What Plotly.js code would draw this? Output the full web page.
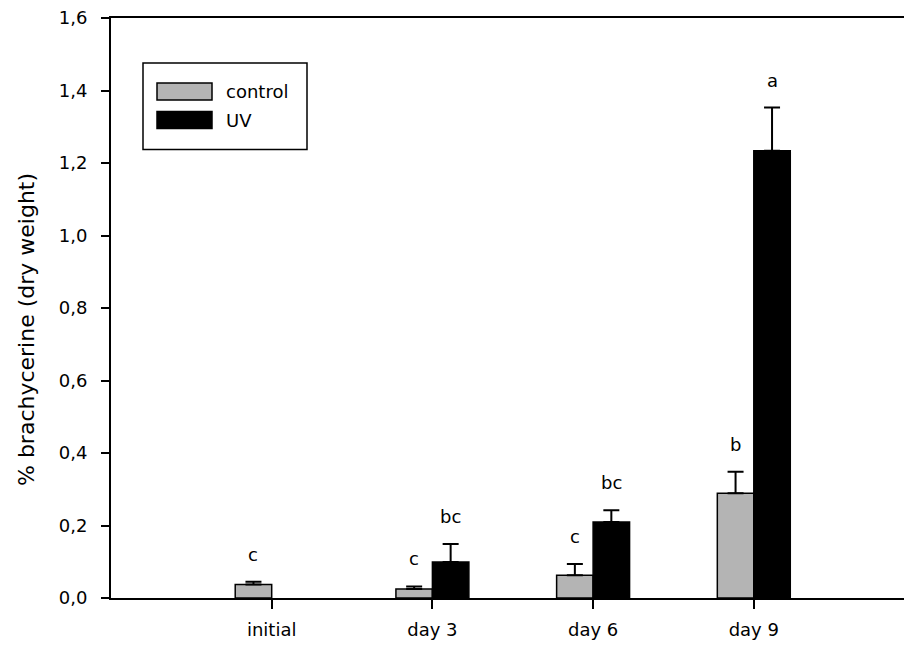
<!DOCTYPE html>
<html>
<head>
<meta charset="utf-8">
<script src="https://cdn.plot.ly/plotly-3.0.1.min.js"></script>
<style>
  html, body { margin: 0; padding: 0; background: #fff; overflow: hidden; }
  #chart { width: 904px; height: 650px; }
</style>
</head>
<body>
<div id="chart"></div>
<script>
// Sampling days and mean brachycerine content (% dry weight) with SE
const categories = ['initial', 'day 3', 'day 6', 'day 9'];
const controlMean = [0.037, 0.025, 0.063, 0.289];
const controlErr = [0.008, 0.007, 0.031, 0.059];
const uvMean = [null, 0.099, 0.210, 1.234];
const uvErr = [null, 0.050, 0.032, 0.119];

// Significance letters above each bar
const controlLetters = ['c', 'c', 'c', 'b'];
const uvLetters = [null, 'bc', 'bc', 'a'];

const seriesNames = ['control', 'UV'];
const seriesColors = ['#b4b4b4', '#000000'];

const yTickVals = [0, 0.2, 0.4, 0.6, 0.8, 1.0, 1.2, 1.4, 1.6];

// Geometry of the plotting area (pixels)
const W = 904, H = 650;
const M = { l: 111, r: 0, t: 18, b: 52 };
const plotW = W - M.l - M.r;
const plotH = H - M.t - M.b;
const catStep = 160.7;          // pixels per category
const barW = 0.227;             // bar width in category units
const FONT = 'DejaVu Sans';

const px2x = p => (p - M.l) / plotW;
const px2y = p => (H - M.b - p) / plotH;

function errSpec(arr) {
  return {
    type: 'data', symmetric: false,
    array: arr.map(v => (v == null ? null : v)),
    arrayminus: arr.map(() => 0),
    color: '#000', thickness: 2, width: 8, visible: true
  };
}

const traces = [
  {
    type: 'bar', name: seriesNames[0], x: categories, y: controlMean,
    width: barW, offset: -barW,
    marker: { color: seriesColors[0], line: { color: '#000', width: 1.5 } },
    error_y: errSpec(controlErr), showlegend: false, hoverinfo: 'skip'
  },
  {
    type: 'bar', name: seriesNames[1], x: categories, y: uvMean,
    width: barW, offset: 0,
    marker: { color: seriesColors[1], line: { color: '#000', width: 1.5 } },
    error_y: errSpec(uvErr), showlegend: false, hoverinfo: 'skip'
  }
];

const annotations = [];
const letterShift = barW / 2 * catStep;
function addLetters(letters, means, errs, dir) {
  letters.forEach((t, i) => {
    if (!t) return;
    annotations.push({
      x: categories[i], y: means[i] + errs[i], xref: 'x', yref: 'y',
      text: t, showarrow: false, xshift: dir * letterShift, yshift: 15,
      xanchor: 'center', yanchor: 'bottom',
      font: { family: FONT, size: 18, color: '#000' }
    });
  });
}
addLetters(controlLetters, controlMean, controlErr, -1);
addLetters(uvLetters, uvMean, uvErr, 1);

// y-axis title
annotations.push({
  x: px2x(26), y: px2y(330), xref: 'paper', yref: 'paper',
  text: '% brachycerine (dry weight)', textangle: -90, showarrow: false,
  xanchor: 'center', yanchor: 'middle',
  font: { family: FONT, size: 22, color: '#000' }
});

// Legend box with wide swatches
const shapes = [{
  type: 'rect', xref: 'paper', yref: 'paper',
  x0: px2x(143), x1: px2x(307), y0: px2y(63), y1: px2y(149.5),
  line: { color: '#000', width: 1.5 }, fillcolor: '#fff', layer: 'above'
}];
const legendRows = [91.5, 120];
seriesNames.forEach((name, k) => {
  const yc = legendRows[k];
  shapes.push({
    type: 'rect', xref: 'paper', yref: 'paper',
    x0: px2x(157), x1: px2x(212), y0: px2y(yc - 8.5), y1: px2y(yc + 8.5),
    line: { color: '#000', width: 1.5 }, fillcolor: seriesColors[k], layer: 'above'
  });
  annotations.push({
    x: px2x(224), y: px2y(yc), xref: 'paper', yref: 'paper',
    text: name, showarrow: false, xanchor: 'left', yanchor: 'middle',
    font: { family: FONT, size: 18, color: '#000' }
  });
});

const layout = {
  width: W, height: H, margin: M,
  paper_bgcolor: '#fff', plot_bgcolor: '#fff',
  separators: ',.',
  showlegend: false,
  barmode: 'overlay',
  font: { family: FONT, size: 18, color: '#000' },
  xaxis: {
    type: 'category', categoryorder: 'array', categoryarray: categories,
    range: [-1, -1 + plotW / catStep],
    showgrid: false, zeroline: false,
    showline: true, linecolor: '#000', linewidth: 2, mirror: true,
    ticks: 'outside', ticklen: 9, tickwidth: 2, tickcolor: '#000',
    ticklabelstandoff: 5,
    tickfont: { family: FONT, size: 18, color: '#000' }
  },
  yaxis: {
    range: [0, 1.6], tickvals: yTickVals, tickformat: '.1f',
    showgrid: false, zeroline: false,
    showline: true, linecolor: '#000', linewidth: 2,
    ticks: 'outside', ticklen: 8, tickwidth: 2, tickcolor: '#000',
    ticklabelstandoff: 10,
    tickfont: { family: FONT, size: 18, color: '#000' }
  },
  annotations: annotations,
  shapes: shapes
};

Plotly.newPlot('chart', traces, layout, { staticPlot: true, displayModeBar: false });
</script>
</body>
</html>
